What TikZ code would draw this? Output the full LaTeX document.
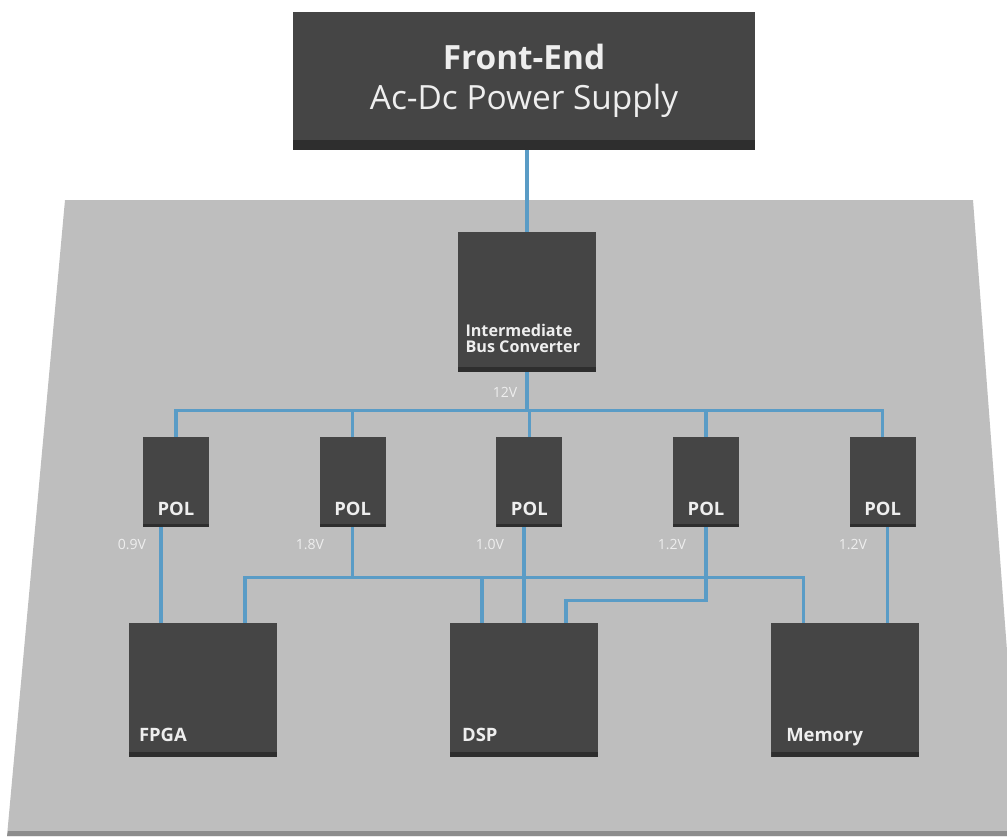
\documentclass[tikz,border=0pt]{standalone}
\usepackage{fontspec}
\setmainfont{Open Sans}
\usetikzlibrary{positioning,calc}

\definecolor{board}{HTML}{BEBEBE}
\definecolor{boardedge}{HTML}{8C8C8C}
\definecolor{chipgray}{HTML}{454545}
\definecolor{chipedge}{HTML}{2E2E2E}
\definecolor{wireblue}{HTML}{5A9CC6}
\definecolor{labelwhite}{HTML}{EEEEEE}

\begin{document}
\begin{tikzpicture}[
    x=0.02cm, y=-0.02cm,
    chip/.style={rectangle, fill=chipgray, inner sep=0pt,
        path picture={\fill[chipedge] (path picture bounding box.south west) rectangle ([yshift=#1]path picture bounding box.south east);}},
    chip/.default=0.1cm,
    pol/.style={chip=0.06cm, minimum width=1.32cm, minimum height=1.8cm},
    ic/.style={chip, minimum width=2.96cm, minimum height=2.68cm},
    chiplabel/.style={text=labelwhite, inner sep=0pt, text depth=0pt, font=\fontsize{10.5}{12}\selectfont\bfseries},
    volt/.style={text=labelwhite, inner sep=1pt, font=\fontsize{8}{9}\selectfont},
    wire/.style={draw=wireblue, line width=2pt}
]
    \useasboundingbox (0,0) rectangle (1007,836);
    \clip (0,0) rectangle (1007,836);

    % board
    \fill[board] (65,200) -- (973,200) -- (1021,836) -- (7,836) -- cycle;
    \fill[boardedge] (8,831) -- (1021,831) -- (1021,836) -- (7,836) -- cycle;

    % supply and bus converter
    \node[chip=0.2cm, minimum width=9.24cm, minimum height=2.76cm, align=center, text=labelwhite,
        font=\fontsize{19}{23}\selectfont] (fe) at (524,81) {{\bfseries Front-End}\\Ac-Dc Power Supply};
    \node[chip, minimum width=2.78cm, minimum height=2.8cm] (ibc) at (527,302) {};
    \node[chiplabel, anchor=south west, align=left, font=\fontsize{9.2}{9.6}\selectfont\bfseries]
        (ibctext) at ([xshift=0.16cm, yshift=0.38cm]ibc.south west) {Intermediate\\Bus Converter};
    \node[volt] (v12) at (505,392) {12V};

    % point of load
    \node[pol] (pol1) at (176,482) {};
    \node[pol, right=2.2cm of pol1] (pol2) {};
    \node[pol, right=2.2cm of pol2] (pol3) {};
    \node[pol, right=2.2cm of pol3] (pol4) {};
    \node[pol, right=2.2cm of pol4] (pol5) {};
    \foreach \i in {1,...,5}
        \node[chiplabel] (poltext\i) at ([yshift=0.38cm]pol\i.south) {POL};

    \foreach \x/\v [count=\i] in {132/0.9V, 310/1.8V, 490/1.0V, 672/1.2V, 853/1.2V}
        \node[volt] (volt\i) at (\x,544) {\v};

    % loads
    \node[ic] (fpga) at (203,690) {};
    \node[ic, right=3.45cm of fpga] (dsp) {};
    \node[ic, right=3.45cm of dsp] (mem) {};
    \node[chiplabel, anchor=south west] (fpgatext) at ([xshift=0.2cm, yshift=0.32cm]fpga.south west) {FPGA};
    \node[chiplabel, anchor=south west] (dsptext) at ([xshift=0.24cm, yshift=0.32cm]dsp.south west) {DSP};
    \node[chiplabel, anchor=south west] (memtext) at ([xshift=0.3cm, yshift=0.32cm]mem.south west) {Memory};

    \coordinate (fpgaL) at ([xshift=-0.84cm]fpga.north);
    \coordinate (fpgaR) at ([xshift=0.84cm]fpga.north);
    \coordinate (dspL) at ([xshift=-0.84cm]dsp.north);
    \coordinate (dspC) at (dsp.north);
    \coordinate (dspR) at ([xshift=0.84cm]dsp.north);
    \coordinate (memL) at ([xshift=-0.84cm]mem.north);
    \coordinate (memR) at ([xshift=0.84cm]mem.north);

    % wiring
    \coordinate (bus) at ($(ibc.south)+(0,38)$);
    \coordinate (bus2) at ($(pol2.south)+(0,50)$);
    \draw[wire] (ibc.north) -- (ibc.north |- fe.south);
    \draw[wire] (ibc.south) -- (bus);
    \draw[wire] (pol1.north) |- (bus) -| (pol5.north);
    \foreach \i in {2,3,4}
        \draw[wire] (pol\i.north) -- (pol\i.north |- bus);

    \draw[wire] (fpgaL) -- (fpgaL |- pol1.south);
    \draw[wire] (pol2.south) -- (bus2);
    \draw[wire] (fpgaR) |- (bus2) -| (memL);
    \draw[wire] (dspL) -- (dspL |- bus2);
    \draw[wire] (dspC) -- (dspC |- pol3.south);
    \draw[wire] (pol4.south) |- ($(dspR)+(0,-22)$) -- (dspR);
    \draw[wire] (memR) -- (memR |- pol5.south);
\end{tikzpicture}
\end{document}
